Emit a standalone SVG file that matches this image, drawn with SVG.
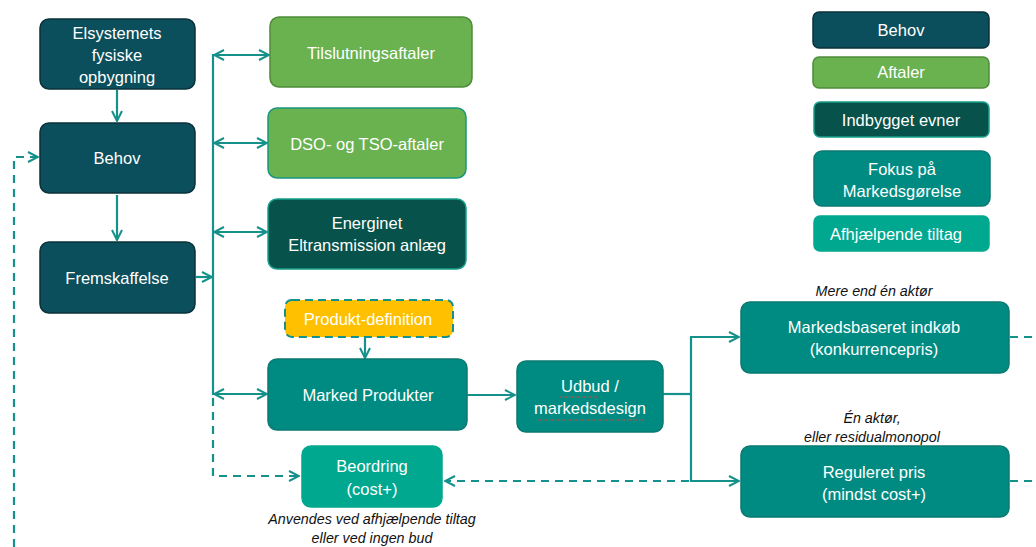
<svg xmlns="http://www.w3.org/2000/svg" width="1036" height="547" viewBox="0 0 1036 547">
<style>
.t{font-family:"Liberation Sans",Arial,sans-serif;font-size:16.5px;fill:#ffffff;text-anchor:middle}
.i{font-family:"Liberation Sans",Arial,sans-serif;font-size:14.3px;font-style:italic;fill:#111;text-anchor:middle}
.c{fill:none;stroke:#14918a;stroke-width:2.2}
.d{fill:none;stroke:#14918a;stroke-width:2.2;stroke-dasharray:8,6}
.behov{fill:#0c4f5c;stroke:#0a323a;stroke-width:1.5}
.aft{fill:#6ab150;stroke:#4f8c3a;stroke-width:1.5}
.aft2{fill:#6ab150;stroke:#19977f;stroke-width:1.5}
.ind{fill:#07524a;stroke:#18a08a;stroke-width:1.5}
.fok{fill:#008b82;stroke:#0a7a72;stroke-width:1.5}
.afh{fill:#00a88f;stroke:#00a88f;stroke-width:1.5}
</style>
<defs>
<marker id="a" viewBox="0 0 12 12" refX="11" refY="6" markerWidth="12" markerHeight="12" markerUnits="userSpaceOnUse" orient="auto-start-reverse">
<path d="M1,1 L11,6 L1,11" fill="none" stroke="#14918a" stroke-width="2"/>
</marker>
</defs>
<rect width="1036" height="547" fill="#ffffff"/>
<g id="connectors">
<line class="c" x1="117" y1="90" x2="117" y2="121" marker-end="url(#a)"/>
<line class="c" x1="117" y1="195" x2="117" y2="240" marker-end="url(#a)"/>
<line class="c" x1="196" y1="277" x2="212" y2="277" marker-end="url(#a)"/>
<line class="c" x1="213" y1="54" x2="213" y2="395"/>
<line class="c" x1="214" y1="55" x2="269" y2="55" marker-start="url(#a)" marker-end="url(#a)"/>
<line class="c" x1="214" y1="143" x2="267" y2="143" marker-start="url(#a)" marker-end="url(#a)"/>
<line class="c" x1="214" y1="232" x2="267" y2="232" marker-start="url(#a)" marker-end="url(#a)"/>
<line class="c" x1="214" y1="394" x2="267" y2="394" marker-start="url(#a)" marker-end="url(#a)"/>
<polyline class="d" points="213,398 213,476 299,476" marker-end="url(#a)"/>
<line class="c" x1="365" y1="338" x2="365" y2="358" marker-end="url(#a)"/>
<line class="c" x1="467" y1="395" x2="515" y2="395" marker-end="url(#a)"/>
<polyline class="c" points="663,394 691,394"/>
<polyline class="c" points="739,337 691,337 691,481 739,481" marker-start="url(#a)" marker-end="url(#a)"/>
<line class="d" x1="689" y1="481" x2="445" y2="481" marker-end="url(#a)"/>
<line class="d" x1="1010" y1="337" x2="1036" y2="337" stroke-dasharray="4,8"/>
<line class="d" x1="1010" y1="481" x2="1036" y2="481" stroke-dasharray="4,8"/>
<polyline class="d" points="14,547 14,157 38,157" stroke-dasharray="9,7" marker-end="url(#a)"/>
</g>
<g id="elsystemets"><rect class="behov" x="40" y="19" width="155" height="70" rx="9"/><text class="t" x="117" y="39">Elsystemets</text><text class="t" x="117" y="61">fysiske</text><text class="t" x="117" y="83">opbygning</text></g>
<g id="behov"><rect class="behov" x="40" y="123" width="155" height="70" rx="9"/><text class="t" x="117" y="164">Behov</text></g>
<g id="fremskaffelse"><rect class="behov" x="40" y="242" width="155" height="71" rx="9"/><text class="t" x="117" y="284">Fremskaffelse</text></g>
<g id="tilslutning"><rect class="aft" x="270" y="17" width="202" height="70" rx="9"/><text class="t" x="371" y="59">Tilslutningsaftaler</text></g>
<g id="dso"><rect class="aft2" x="268" y="108" width="198" height="70" rx="9"/><text class="t" x="367" y="150">DSO- og TSO-aftaler</text></g>
<g id="energinet"><rect class="ind" x="268" y="199" width="198" height="70" rx="9"/><text class="t" x="367" y="229">Energinet</text><text class="t" x="367" y="251">Eltransmission  anlæg</text></g>
<g id="produktdef"><rect x="285" y="300" width="168" height="37" rx="7" fill="#ffc000" stroke="#14918a" stroke-width="2" stroke-dasharray="8,5"/><text class="t" x="368" y="325">Produkt-definition</text></g>
<g id="marked"><rect class="fok" x="268" y="359" width="199" height="71" rx="9"/><text class="t" x="368" y="401">Marked Produkter</text></g>
<g id="beordring"><rect class="afh" x="302" y="446" width="140" height="61" rx="9"/><text class="t" x="372" y="472">Beordring</text><text class="t" x="372" y="495">(cost+)</text></g>
<g id="udbud"><rect class="fok" x="517" y="361" width="146" height="71" rx="9"/><text class="t" x="590" y="392">Udbud /</text><text class="t" x="590" y="414">markedsdesign</text>
<line x1="560" y1="397" x2="597" y2="397" stroke="#e0463c" stroke-width="1" stroke-dasharray="1.5,1.5"/>
<line x1="537" y1="420" x2="645" y2="420" stroke="#e0463c" stroke-width="1" stroke-dasharray="1.5,1.5"/></g>
<g id="markedsbaseret"><rect class="fok" x="741" y="302" width="268" height="71" rx="9"/><text class="t" x="874" y="333">Markedsbaseret  indkøb</text><text class="t" x="874" y="355">(konkurrencepris)</text></g>
<g id="reguleret"><rect class="fok" x="741" y="446" width="268" height="71" rx="9"/><text class="t" x="874" y="478">Reguleret  pris</text><text class="t" x="874" y="500">(mindst cost+)</text></g>
<g id="notes">
<text class="i" x="874" y="296">Mere end én aktør</text>
<text class="i" x="872" y="423">Én aktør,</text>
<text class="i" x="872" y="442">eller residualmonopol</text>
<text class="i" x="372" y="524">Anvendes ved afhjælpende tiltag</text>
<text class="i" x="372" y="543">eller ved ingen bud</text>
</g>
<g id="legend-behov"><rect class="behov" x="813" y="12" width="176" height="36" rx="6"/><text class="t" x="901" y="36">Behov</text></g>
<g id="legend-aftaler"><rect class="aft" x="813" y="57" width="176" height="31" rx="6"/><text class="t" x="901" y="78">Aftaler</text></g>
<g id="legend-indbygget"><rect class="ind" x="814" y="102" width="175" height="35" rx="6"/><text class="t" x="901" y="126">Indbygget evner</text></g>
<g id="legend-fokus"><rect class="fok" x="814" y="151" width="176" height="55" rx="8"/><text class="t" x="902" y="175">Fokus på</text><text class="t" x="902" y="197">Markedsgørelse</text></g>
<g id="legend-afhj"><rect class="afh" x="814" y="216" width="175" height="35" rx="6"/><text class="t" x="896" y="240">Afhjælpende tiltag</text></g>
</svg>
